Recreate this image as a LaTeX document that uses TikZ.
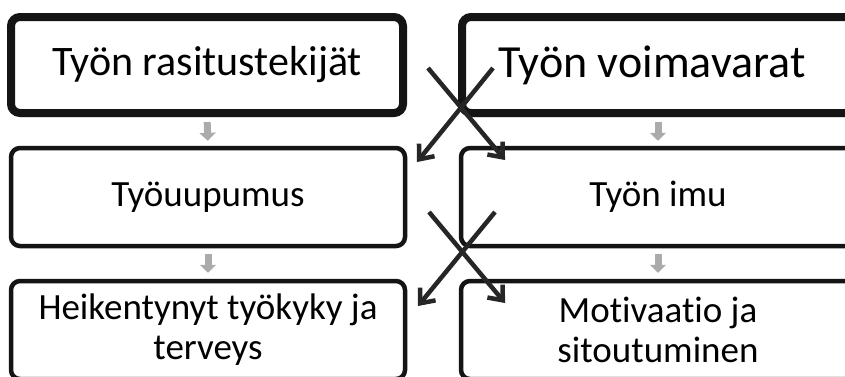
\documentclass[tikz,border=0pt]{standalone}
\usepackage{fontspec}
\setmainfont[Ligatures=NoCommon]{Carlito}
\usetikzlibrary{arrows.meta,shadows}
\begin{document}
\begin{tikzpicture}[x=1pt,y=-1pt,
  box/.style={draw=black!92, fill=white, rounded corners=9pt, line width=4.5pt,
    minimum width=394pt, minimum height=98pt, align=center, inner sep=0pt,
    font=\fontsize{37}{40}\selectfont},
  topbox/.style={box, line width=8pt, minimum width=392pt, minimum height=96pt,
    font=\fontsize{42}{48}\selectfont,
    drop shadow={shadow xshift=0pt, shadow yshift=-4pt, opacity=0.25, fill=black}},
  grayarrow/.style={draw=black!33, line width=7pt, -{Triangle[length=8pt,width=16pt]}},
  crossarrow/.style={draw=black!85, line width=4.5pt, -{Straight Barb[length=12pt,width=20pt]}}]
\useasboundingbox (0,0) rectangle (845,376);
\clip (0,0) rectangle (845,376);
\fill[white] (0,0) rectangle (845,376);
% boxes
\node[topbox] (tl) at (207,65) {Työn rasitustekijät};
\node[topbox, font=\fontsize{46}{52}\selectfont] (tr) at (658,65) {Työn voimavarat\hspace*{12pt}};
\node[box] (ml) at (208,197) {Työuupumus};
\node[box] (mr) at (658,197) {Työn imu};
\node[box] (bl) at (208,330) {Heikentynyt työkyky ja\\terveys};
\node[box] (br) at (658,330) {Motivaatio ja\\sitoutuminen};
% gray arrows
\draw[grayarrow, shorten <=5pt, shorten >=5pt] (tl.south) -- (ml.north);
\draw[grayarrow, shorten <=5pt, shorten >=5pt] (tr.south) -- (mr.north);
\draw[grayarrow, shorten <=6pt, shorten >=6pt] (ml.south) -- (bl.north);
\draw[grayarrow, shorten <=6pt, shorten >=6pt] (mr.south) -- (br.north);
% crossing arrows
\coordinate (a1) at (428,68);
\coordinate (a2) at (505,160);
\coordinate (b1) at (493,68);
\coordinate (b2) at (417,162);
\coordinate (c1) at (429,212);
\coordinate (c2) at (505,303);
\coordinate (d1) at (495,212);
\coordinate (d2) at (418,306);
\draw[crossarrow] (a1) -- (a2);
\draw[crossarrow] (b1) -- (b2);
\draw[crossarrow] (c1) -- (c2);
\draw[crossarrow] (d1) -- (d2);
\end{tikzpicture}
\end{document}
